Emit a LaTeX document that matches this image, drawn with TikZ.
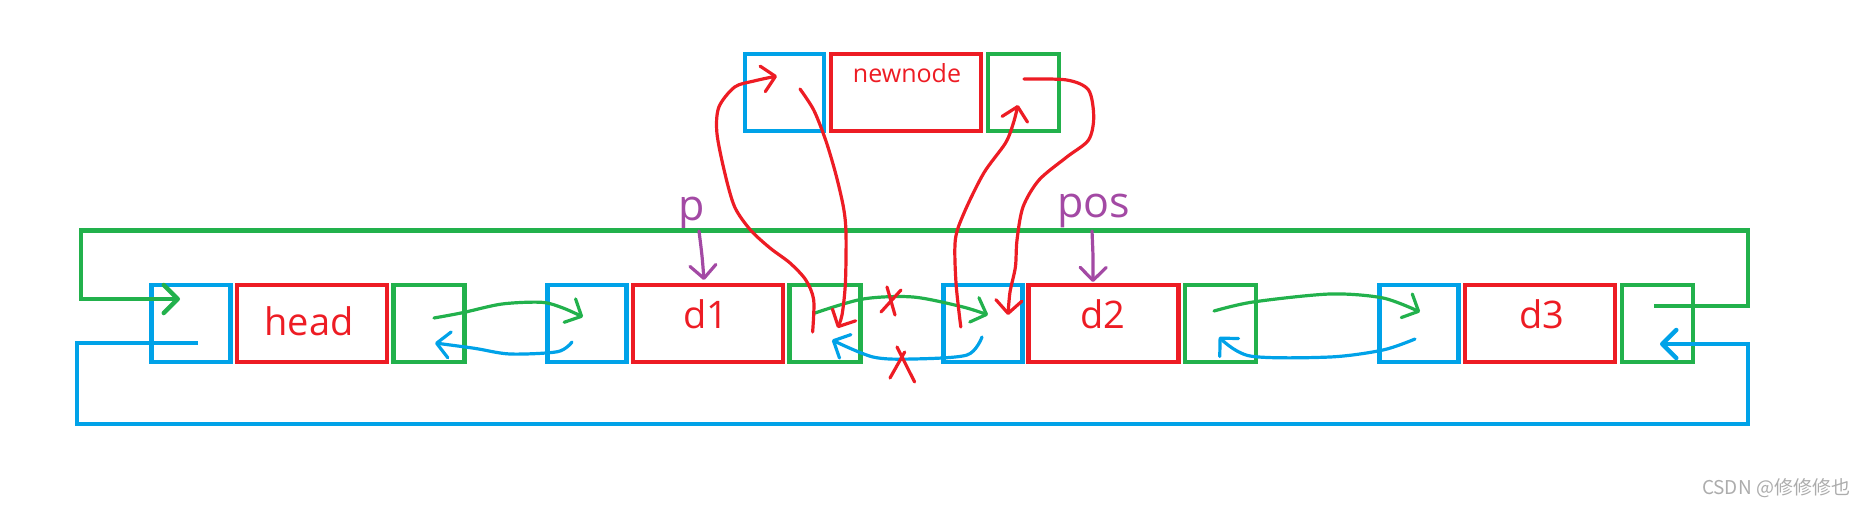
\documentclass[tikz,border=0pt]{standalone}
\usepackage{fontspec}
\setmainfont{Open Sans}
\newfontfamily\cjk{Noto Sans CJK SC}
\usetikzlibrary{arrows.meta}
\definecolor{cblue}{HTML}{00A2E8}
\definecolor{cred}{HTML}{ED1C24}
\definecolor{cgreen}{HTML}{22B14C}
\definecolor{cpurple}{HTML}{A349A4}
\begin{document}
\begin{tikzpicture}[x=1pt,y=-1pt,
  cell/.style={draw, line width=4.5pt, minimum height=77pt, inner sep=0pt, outer sep=0pt},
  bcell/.style={cell, cblue, minimum width=79pt},
  rcell/.style={cell, cred, minimum width=150pt},
  gcell/.style={cell, cgreen, minimum width=71pt},
  lbl/.style={text=cred, font=\fontsize{38}{42}\selectfont, anchor=base, inner sep=0pt},
  ptr/.style={text=cpurple, font=\fontsize{43}{47}\selectfont, anchor=base, inner sep=0pt},
  hand/.style={line width=3.2pt, line cap=round, line join=round},
  tip/.style={-{Straight Barb[length=13pt,width=26pt,round]}},
  bigtip/.style={-{Straight Barb[length=14pt,width=28pt,round]}},
  ring/.style={line width=4.5pt, line join=miter},
  cross/.style={cred, line width=3.2pt, line cap=round},
]
\useasboundingbox (0,0) rectangle (1860,506);

% ---- cells ----
\node[bcell] (hb) at (191,323.5) {};
\node[rcell] (hr) at (312,323.5) {};
\node[gcell] (hg) at (429,323.5) {};
\node[bcell] (d1b) at (587,323.5) {};
\node[rcell] (d1r) at (708,323.5) {};
\node[gcell] (d1g) at (825,323.5) {};
\node[bcell] (d2b) at (983,323.5) {};
\node[rcell] (d2r) at (1103.5,323.5) {};
\node[gcell] (d2g) at (1220.5,323.5) {};
\node[bcell] (d3b) at (1419,323.5) {};
\node[rcell] (d3r) at (1540,323.5) {};
\node[gcell] (d3g) at (1657.5,323.5) {};
\node[bcell] (nb) at (784.5,92.5) {};
\node[rcell] (nr) at (906,92.5) {};
\node[gcell] (ng) at (1023.5,92.5) {};

% ---- labels ----
\node[lbl] (thead) at (309,335) {head};
\node[lbl] (td1) at (706,328) {d1};
\node[lbl] (td2) at (1103,328) {d2};
\node[lbl] (td3) at (1542,328) {d3};
\node[lbl, font=\fontsize{25}{28}\selectfont] (tnn) at (907,82) {newnode};
\node[ptr] (tp) at (692,220) {p};
\node[ptr] (tpos) at (1094,217) {pos};
\node[text=gray!65, font=\cjk\fontsize{19}{22}\selectfont, inner sep=0pt] (wm) at (1776,488) {CSDN @修修修也};

% ---- outer rings ----
\coordinate (gr0) at (1654,306);
\coordinate (gr1) at (180,299);
\draw[cgreen, ring, bigtip] (gr0) -- (1748,306) -- (1748,230.5) -- (81,230.5) -- (81,299) -- (gr1);
\coordinate (br0) at (198,343);
\coordinate (br1) at (1660,344);
\draw[cblue, ring, bigtip] (br0) -- (77,343) -- (77,424) -- (1748,424) -- (1748,344) -- (br1);

% ---- pointers p / pos ----
\coordinate (pa0) at (699,231);
\coordinate (pa1) at (704,280);
\draw[cpurple, hand, tip] plot[smooth] coordinates {(pa0) (702,256) (pa1)};
\coordinate (pb0) at (1092,231);
\coordinate (pb1) at (1093,282);
\draw[cpurple, hand, tip] plot[smooth] coordinates {(pb0) (1093,257) (pb1)};

% ---- head <-> d1 ----
\coordinate (a0) at (434,318);
\coordinate (a1) at (583,317);
\draw[cgreen, hand, tip] plot[smooth] coordinates {(a0) (462.6,312.7) (502,304) (541.7,302.3) (563,308) (a1)};
\coordinate (b0) at (572,342);
\coordinate (b1) at (435,343);
\draw[cblue, hand, tip] plot[smooth] coordinates {(b0) (557.5,351.7) (510,354) (474.5,348.3) (b1)};

% ---- d1 <-> d2 (crossed out) ----
\coordinate (c0) at (815,313);
\coordinate (c1) at (988,315);
\draw[cgreen, hand, tip] plot[smooth] coordinates {(c0) (863,299) (913,297) (963,307) (c1)};
\coordinate (e0) at (982,337);
\coordinate (e1) at (832,340);
\draw[cblue, hand, tip] plot[smooth] coordinates {(e0) (967,355) (913,359) (873,357) (e1)};
\draw[cross] (887,287) -- (895,315);
\draw[cross] (881,312) -- (901,290);
\draw[cross] (897,347) -- (914.6,382);
\draw[cross] (890,378) -- (904.7,352);

% ---- d2 <-> d3 ----
\coordinate (f0) at (1214,311);
\coordinate (f1) at (1420,312);
\draw[cgreen, hand, tip] plot[smooth] coordinates {(f0) (1253,302) (1330,294) (1383,298) (f1)};
\coordinate (g0) at (1415,339);
\coordinate (g1) at (1219,337);
\draw[cblue, hand, tip] plot[smooth] coordinates {(g0) (1383,350) (1330,357) (1250,356) (g1)};

% ---- red insertion arrows ----
\coordinate (r1s) at (812.6,332);
\coordinate (r1e) at (777,76);
\draw[cred, hand, tip] plot[smooth] coordinates {(r1s) (813.7,300) (805.8,280) (790,263) (770,248) (750.5,230) (734.7,207) (724.8,173) (716.9,133) (718.9,107) (734.7,87) (754,81) (r1e)};
\coordinate (r2s) at (800,89);
\coordinate (r2e) at (837.5,328);
\draw[cred, hand, tip] plot[smooth] coordinates {(r2s) (813.7,110) (825.6,140) (835.5,173) (843.4,207) (846,233) (845.4,283) (842,315) (r2e)};
\coordinate (r3s) at (960.8,327);
\coordinate (r3e) at (1018,105);
\draw[cred, hand, tip] plot[smooth] coordinates {(r3s) (956,283) (955.3,240) (964,213) (983.8,173) (1005.5,143) (1013.4,123) (r3e)};
\coordinate (r4s) at (1024,79);
\coordinate (r4e) at (1008,315);
\draw[cred, hand, tip] plot[smooth] coordinates {(r4s) (1066.8,80) (1088.5,90) (1093.7,117) (1088.5,140) (1066.8,157) (1039,180) (1023,207) (1017,240) (1015.4,267) (1010,292) (r4e)};
\end{tikzpicture}
\end{document}
